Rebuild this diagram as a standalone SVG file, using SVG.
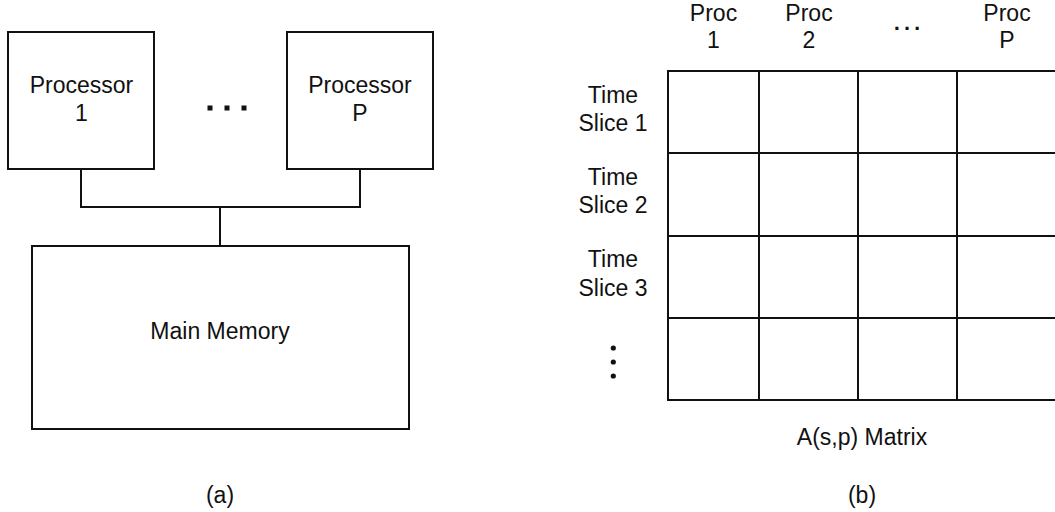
<svg xmlns="http://www.w3.org/2000/svg" width="1055" height="512" viewBox="0 0 1055 512">
  <style>
    .box { fill: #ffffff; stroke: #111111; stroke-width: 2; }
    .wire { fill: none; stroke: #111111; stroke-width: 2; }
    .grid { fill: none; stroke: #111111; stroke-width: 2; }
    .lbl { font-family: "Liberation Sans", Arial, sans-serif; font-size: 23px; fill: #111111; text-anchor: middle; }
    .dot { fill: #111111; }
  </style>
  <rect width="1055" height="512" fill="#ffffff"/>

  <!-- (a) shared-memory machine -->
  <g id="connectors">
    <path class="wire" d="M81,169 V207 H360 V169"/>
    <path class="wire" d="M220,207 V246"/>
  </g>

  <g id="processor1">
    <rect class="box" x="8" y="32" width="146" height="137"/>
    <text class="lbl" x="81.5" y="93">Processor</text>
    <text class="lbl" x="81.5" y="121">1</text>
  </g>

  <g id="processorP">
    <rect class="box" x="287" y="32" width="146" height="137"/>
    <text class="lbl" x="360" y="93">Processor</text>
    <text class="lbl" x="360" y="121">P</text>
  </g>

  <g id="proc-ellipsis">
    <rect class="dot" x="207.5" y="105.5" width="5" height="5"/>
    <rect class="dot" x="224.5" y="105.5" width="5" height="5"/>
    <rect class="dot" x="241.5" y="105.5" width="5" height="5"/>
  </g>

  <g id="main-memory">
    <rect class="box" x="32" y="246" width="377" height="183"/>
    <text class="lbl" x="220" y="339">Main Memory</text>
  </g>

  <text class="lbl" x="220" y="503">(a)</text>

  <!-- (b) schedule matrix A(s,p) -->
  <g id="matrix">
    <path class="grid" d="M668,71 H1058 M668,153 H1058 M668,236 H1058 M668,318 H1058 M668,400 H1058"/>
    <path class="grid" d="M668,70 V401 M759,71 V400 M858,71 V400 M957,71 V400"/>
  </g>

  <g id="col-headers">
    <text class="lbl" x="713.5" y="21">Proc</text>
    <text class="lbl" x="713.5" y="48">1</text>
    <text class="lbl" x="809" y="21">Proc</text>
    <text class="lbl" x="809" y="48">2</text>
    <text class="lbl" x="907" y="30" style="font-size:32px">…</text>
    <text class="lbl" x="1007" y="21">Proc</text>
    <text class="lbl" x="1007" y="48">P</text>
  </g>

  <g id="row-headers">
    <text class="lbl" x="613" y="102.5">Time</text>
    <text class="lbl" x="613" y="130.5">Slice 1</text>
    <text class="lbl" x="613" y="185">Time</text>
    <text class="lbl" x="613" y="213">Slice 2</text>
    <text class="lbl" x="613" y="267">Time</text>
    <text class="lbl" x="613" y="295.5">Slice 3</text>
    <circle class="dot" cx="613.3" cy="348" r="2.6"/>
    <circle class="dot" cx="613.3" cy="362" r="2.6"/>
    <circle class="dot" cx="613.3" cy="376" r="2.6"/>
  </g>

  <text class="lbl" x="862" y="445">A(s,p) Matrix</text>
  <text class="lbl" x="862" y="503">(b)</text>
</svg>
